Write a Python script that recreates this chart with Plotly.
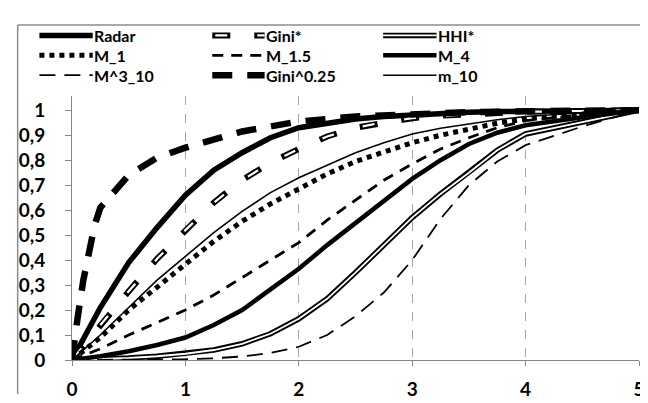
import plotly.graph_objects as go

# ---------------- data ----------------
X = [0, 0.25, 0.5, 0.75, 1, 1.25, 1.5, 1.75, 2, 2.25, 2.5, 2.75, 3, 3.25, 3.5, 3.75, 4, 4.5, 5]
X_FINE = [0, 0.02, 0.05, 0.1, 0.15, 0.2, 0.25, 0.5, 0.75, 1, 1.5, 2, 2.5, 3, 3.5, 4, 4.5, 5]

radar = [0, 0.21, 0.39, 0.53, 0.66, 0.76, 0.83, 0.89, 0.93, 0.95, 0.965, 0.975, 0.982, 0.988, 0.992, 0.995, 0.997, 0.999, 1]
gini_star = [0, 0.14, 0.275, 0.405, 0.52, 0.63, 0.72, 0.79, 0.845, 0.895, 0.93, 0.952, 0.968, 0.978, 0.985, 0.99, 0.994, 0.997, 1]
hhi_star = [0, 0.003, 0.008, 0.015, 0.025, 0.04, 0.065, 0.105, 0.165, 0.245, 0.35, 0.46, 0.57, 0.665, 0.75, 0.84, 0.905, 0.952, 1]
m_1 = [0, 0.09, 0.2, 0.29, 0.385, 0.475, 0.555, 0.625, 0.685, 0.745, 0.795, 0.835, 0.87, 0.9, 0.925, 0.948, 0.965, 0.985, 1]
m_1_5 = [0, 0.045, 0.1, 0.15, 0.2, 0.26, 0.33, 0.4, 0.47, 0.56, 0.64, 0.72, 0.785, 0.845, 0.89, 0.93, 0.958, 0.982, 1]
m_4 = [0, 0.015, 0.035, 0.06, 0.09, 0.14, 0.2, 0.28, 0.365, 0.46, 0.55, 0.64, 0.725, 0.8, 0.865, 0.91, 0.94, 0.972, 1]
m3_10 = [0, 0, 0, 0.001, 0.003, 0.007, 0.014, 0.028, 0.053, 0.1, 0.175, 0.27, 0.4, 0.565, 0.7, 0.795, 0.86, 0.935, 1]
gini_025 = [0, 0.08, 0.17, 0.32, 0.44, 0.54, 0.61, 0.74, 0.81, 0.85, 0.915, 0.955, 0.975, 0.985, 0.992, 0.996, 0.998, 1]
m_10 = [0, 0.1, 0.21, 0.32, 0.415, 0.51, 0.595, 0.67, 0.73, 0.78, 0.83, 0.87, 0.905, 0.928, 0.945, 0.962, 0.975, 0.99, 1]

Y_TICKS = [0, 0.1, 0.2, 0.3, 0.4, 0.5, 0.6, 0.7, 0.8, 0.9, 1]
Y_TICK_TEXT = ["0", "0,1", "0,2", "0,3", "0,4", "0,5", "0,6", "0,7", "0,8", "0,9", "1"]
X_TICKS = [0, 1, 2, 3, 4, 5]

# ---------------- styles ----------------
BLACK = "#000000"
WHITE = "#ffffff"
GAP_DASH_OUT = "18px,24px"
GAP_DASH_IN = "0px,3px,12px,27px"

STYLES = {
    "Radar": [(5.5, "solid", BLACK)],
    "Gini*": [(6, GAP_DASH_OUT, BLACK), (2.2, GAP_DASH_IN, WHITE)],
    "HHI*": [(5.5, "solid", BLACK), (1.8, "solid", WHITE)],
    "M_1": [(5, "5px,5px", BLACK)],
    "M_1.5": [(2.8, "11px,8px", BLACK)],
    "M_4": [(4.5, "solid", BLACK)],
    "M^3_10": [(1.8, "16px,9px", BLACK)],
    "Gini^0.25": [(6.5, "20px,15px", BLACK)],
    "m_10": [(1.6, "solid", BLACK)],
}

fig = go.Figure()

def add(name, x, y):
    for w, d, c in STYLES[name]:
        fig.add_trace(go.Scatter(x=x, y=y, mode="lines", showlegend=False, hoverinfo="skip", name=name,
                                 line=dict(color=c, width=w, dash=d)))

add("Radar", X, radar)
add("Gini*", X, gini_star)
add("HHI*", X, hhi_star)
add("M_1", X, m_1)
add("M_1.5", X, m_1_5)
add("M_4", X, m_4)
add("M^3_10", X, m3_10)
add("Gini^0.25", X_FINE, gini_025)
add("m_10", X, m_10)

# ---------------- layout geometry ----------------
W, H = 648, 403
L, R, T, B = 63, 11, 88, 36
PW, PH = W - L - R, H - T - B

def px(xp):
    return (xp - L) / PW

def py(yp):
    return (H - B - yp) / PH

shapes = []
annotations = []

FRAME = "#8c8c8c"
shapes.append(dict(type="line", xref="paper", yref="paper", x0=px(8), x1=px(8), y0=py(403), y1=py(13),
                   line=dict(color=FRAME, width=1.5)))
shapes.append(dict(type="line", xref="paper", yref="paper", x0=px(8), x1=px(640), y0=py(13), y1=py(13),
                   line=dict(color=FRAME, width=1.5)))

legend_layout = [
    ("Radar", 0, 0), ("Gini*", 1, 0), ("HHI*", 2, 0),
    ("M_1", 0, 1), ("M_1.5", 1, 1), ("M_4", 2, 1),
    ("M^3_10", 0, 2), ("Gini^0.25", 1, 2), ("m_10", 2, 2),
]
col_x0 = [30, 205, 378]
col_x1 = [84, 258, 432]
row_y = [24, 45, 66]
LEG_FONT = dict(family="Lato, 'Open Sans', sans-serif", size=16, color=BLACK, weight="bold")
TICK_FONT = dict(family="Lato, 'Open Sans', sans-serif", size=19, color=BLACK, weight="bold")
for name, c, r in legend_layout:
    for w, d, colr in STYLES[name]:
        shapes.append(dict(type="line", xref="paper", yref="paper",
                           x0=px(col_x0[c]), x1=px(col_x1[c]), y0=py(row_y[r]), y1=py(row_y[r]),
                           line=dict(color=colr, width=w, dash=d)))
    annotations.append(dict(text=name, xref="paper", yref="paper", x=px(col_x1[c]), y=py(row_y[r]),
                            xanchor="left", yanchor="middle", showarrow=False, font=LEG_FONT, borderpad=0))

AX = "#868686"
fig.update_layout(
    width=W, height=H,
    margin=dict(l=L, r=R, t=T, b=B),
    paper_bgcolor="white", plot_bgcolor="white",
    showlegend=False,
    shapes=shapes, annotations=annotations,
    xaxis=dict(range=[0, 5], tickvals=X_TICKS, ticks="outside", ticklen=5, tickcolor=AX,
               showline=True, linecolor=AX, linewidth=1, showgrid=True, gridcolor="#a6a6a6",
               griddash="dash", gridwidth=1, zeroline=False, tickfont=TICK_FONT, ticklabelstandoff=7),
    yaxis=dict(range=[0, 1.057], tickvals=Y_TICKS, ticktext=Y_TICK_TEXT, ticks="outside", ticklen=6,
               tickcolor=AX, showline=True, linecolor=AX, linewidth=1, showgrid=False,
               zeroline=False, tickfont=TICK_FONT, ticklabelstandoff=16),
)

fig.write_html("out.html")
